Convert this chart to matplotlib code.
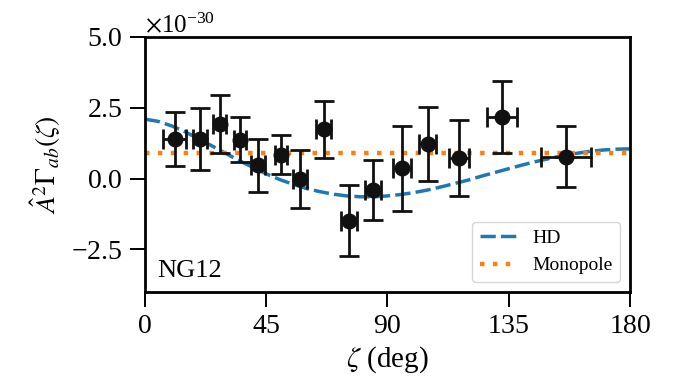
import matplotlib
matplotlib.use("Agg")
import matplotlib.pyplot as plt
import numpy as np

plt.rcParams['font.family'] = ['Liberation Serif', 'DejaVu Serif']
plt.rcParams['mathtext.fontset'] = 'stix'
plt.rcParams['axes.formatter.use_mathtext'] = True

# binned cross-correlation data (x1e-30)
zeta = [11.1, 20.4, 27.8, 35.3, 42.0, 50.5, 57.5, 66.4, 75.7, 84.7, 95.4, 105.0, 116.5, 132.5, 156.3]
corr = [1.41, 1.41, 1.94, 1.38, 0.47, 0.85, -0.02, 1.74, -1.48, -0.40, 0.37, 1.22, 0.73, 2.18, 0.78]
corr_err = [0.95, 1.10, 1.02, 0.80, 0.93, 0.70, 1.03, 1.00, 1.25, 1.07, 1.50, 1.32, 1.35, 1.28, 1.07]
zeta_err = [4.3, 2.5, 2.5, 2.2, 2.5, 2.3, 2.5, 2.8, 3.0, 3.0, 3.3, 3.2, 3.7, 5.6, 9.4]

# Hellings-Downs curve (x1e-30)
hd_zeta = [0, 5, 10, 15, 20, 25, 30, 35, 40, 45, 50, 55, 60, 65, 70, 75, 80, 85, 90,
           95, 100, 105, 110, 115, 120, 125, 130, 135, 140, 145, 150, 155, 160, 165, 170, 175, 180]
hd_vals = [2.10, 2.02, 1.86, 1.65, 1.40, 1.15, 0.89, 0.64, 0.40, 0.17, -0.03, -0.20, -0.35,
           -0.46, -0.55, -0.61, -0.64, -0.64, -0.61, -0.56, -0.49, -0.40, -0.29, -0.17, -0.05,
           0.09, 0.22, 0.35, 0.48, 0.60, 0.71, 0.81, 0.89, 0.96, 1.01, 1.04, 1.05]
monopole = 0.92

scale = 1e-30

fig = plt.figure(figsize=(6.93, 3.85), dpi=100)
ax = fig.add_axes([0.209, 0.2416, 0.700, 0.6624])

ax.plot(hd_zeta, np.array(hd_vals) * scale, ls=(0, (4.4, 1.5)), color='#1f77b4', lw=2.5, label='HD', zorder=2)
ax.axhline(monopole * scale, ls=(0, (1, 1.9)), color='#ff7f0e', lw=3.2, label='Monopole', zorder=2)
ax.errorbar(zeta, np.array(corr) * scale, yerr=np.array(corr_err) * scale, xerr=zeta_err,
            fmt='o', color='#111111', ms=10.5, elinewidth=2.0, capsize=7.5, capthick=2.0, zorder=3)

ax.set_xlim(0, 180)
ax.set_ylim(-4e-30, 5e-30)
ax.set_xticks([0, 45, 90, 135, 180])
ax.set_yticks(np.array([-2.5, 0.0, 2.5, 5.0]) * scale)
ax.tick_params(labelsize=20, length=11, width=1.4, direction='out', pad=5)
ax.yaxis.get_offset_text().set_fontsize(18)
for s in ax.spines.values():
    s.set_linewidth(2)

ax.set_xlabel(r'$\zeta$ (deg)', fontsize=21, labelpad=4)
ax.set_ylabel(r'$\hat{A}^2\Gamma_{ab}(\zeta)$', fontsize=20, labelpad=6)
ax.text(0.025, 0.06, 'NG12', transform=ax.transAxes, fontsize=19)
leg = ax.legend(loc='lower right', fontsize=14, handlelength=1.9, framealpha=0.8,
                borderaxespad=0.5)

fig.savefig('out.png', dpi=100)
